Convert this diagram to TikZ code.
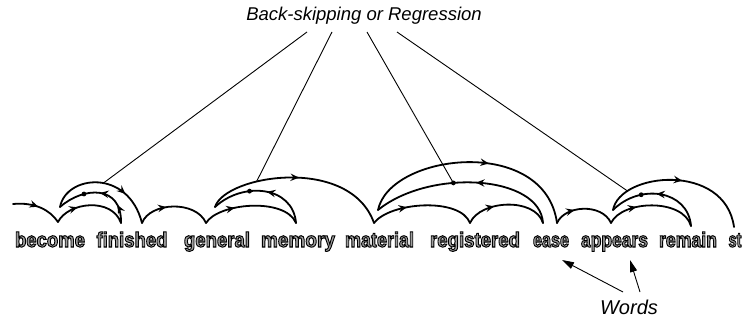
\documentclass[tikz,border=0pt]{standalone}
\usepackage{fontspec}
\setmainfont{Liberation Sans}
\usepackage{graphicx}
\usetikzlibrary{arrows.meta,decorations.markings}
\newfontfamily\wordfont{Liberation Sans}
\newcommand\hatchtext[2]{\resizebox{#1}{\height}{\wordfont\bfseries\fontsize{21}{21}\selectfont
  \special{pdf:literal direct 2 Tr 1.0 w 0 G}#2\special{pdf:literal direct 0 Tr}}}
\newcommand\wordnode[4]{%
  \node[wordtxt,text=black!38] (#1) at (#2,247) {\hatchtext{#3}{#4}};
}
\tikzset{
  eyepath/.style={line width=1.8pt,line cap=round},
  fwdat/.style={postaction={decorate,decoration={markings,
     mark=at position #1 with {\arrow{Stealth[length=8.5pt,width=7.5pt,inset=3pt]}}}}},
  leader/.style={line width=0.9pt},
  wordarrow/.style={line width=0.9pt,-{Triangle[length=12pt,width=7pt]}},
  wordtxt/.style={anchor=base,inner sep=0pt},
  fixdot/.style={fill=black},
}
\begin{document}
\begin{tikzpicture}[x=1pt,y=-1pt]
\useasboundingbox (0,0) rectangle (747,321);

% labels
\node[inner sep=0pt,font=\itshape\fontsize{18.5}{18.5}\selectfont] (lbl) at (364,16) {Back-skipping or Regression};
\node[inner sep=0pt,font=\itshape\fontsize{20}{20}\selectfont] (wl) at (629,307) {Words};

% words
\wordnode{w1}{50}{70pt}{become}
\wordnode{w2}{132}{71pt}{finished}
\wordnode{w3}{217}{66pt}{general}
\wordnode{w4}{298}{74pt}{memory}
\wordnode{w5}{379.5}{69pt}{material}
\wordnode{w6}{475}{90pt}{registered}
\wordnode{w7}{551}{36pt}{ease}
\wordnode{w8}{614.5}{67pt}{appears}
\wordnode{w9}{688}{58pt}{remain}
\wordnode{w10}{735}{13pt}{st}

% key points of the eye path
\coordinate (s0) at (13,204);
\coordinate (c1) at (58,222);
\coordinate (m1) at (121,223);
\coordinate (t1) at (60,207);
\coordinate (e1) at (142,223);
\coordinate (c2) at (206,223);
\coordinate (m2) at (296,223);
\coordinate (t2) at (215,207);
\coordinate (e2) at (374,223);
\coordinate (k3) at (470,223);
\coordinate (m3) at (543,223);
\coordinate (t3) at (378,210);
\coordinate (e3) at (557,223);
\coordinate (c4) at (611,223);
\coordinate (m4) at (691,226);
\coordinate (t4) at (613,210);
\coordinate (e4) at (734,227);

% group 1
\draw[eyepath,fwdat=0.5] (s0) .. controls (35,202) and (50,210) .. (c1);
\draw[eyepath,fwdat=0.33] (c1) .. controls (68,202) and (112,197) .. (m1);
\draw[eyepath,fwdat=0.22,fwdat=0.48] (m1) .. controls (122,185) and (84,186) .. (t1) coordinate[pos=0.7] (d1);
\draw[eyepath,fwdat=0.7] (t1) .. controls (66,175) and (128,168) .. (e1) coordinate[pos=0.55] (l1);
\draw[eyepath,fwdat=0.4] (e1) .. controls (150,202) and (196,200) .. (c2);
% group 2
\draw[eyepath,fwdat=0.33] (c2) .. controls (218,203) and (285,197) .. (m2);
\draw[eyepath,fwdat=0.45] (m2) .. controls (293,186) and (243,181) .. (t2) coordinate[pos=0.65] (d2);
\draw[eyepath,fwdat=0.5] (t2) .. controls (225,175) and (350,155) .. (e2) coordinate[pos=0.34] (l2);
% group 3
\draw[eyepath,fwdat=0.35] (e2) .. controls (390,202) and (460,197) .. (k3);
\draw[eyepath,fwdat=0.35] (k3) .. controls (480,200) and (535,197) .. (m3);
\draw[eyepath,fwdat=0.45] (m3) .. controls (540,175) and (430,168) .. (t3) coordinate[pos=0.62] (d3);
\draw[eyepath,fwdat=0.57] (t3) .. controls (390,153) and (545,135) .. (e3);
\draw[eyepath,fwdat=0.35] (e3) .. controls (565,205) and (602,203) .. (c4);
% group 4
\draw[eyepath,fwdat=0.33] (c4) .. controls (622,200) and (683,198) .. (m4);
\draw[eyepath,fwdat=0.52] (m4) .. controls (688,190) and (640,183) .. (t4) coordinate[pos=0.7] (d4);
\draw[eyepath,fwdat=0.52] (t4) .. controls (620,172) and (725,162) .. (e4) coordinate[pos=0.2] (l4);

% fixation dots
\fill[fixdot] (d1) circle[radius=2.4pt];
\fill[fixdot] (d2) circle[radius=2.4pt];
\fill[fixdot] (d3) circle[radius=2.4pt];
\fill[fixdot] (d4) circle[radius=2.4pt];

% leader lines
\coordinate (g1) at (307,32);
\coordinate (g2) at (332,32);
\coordinate (g3) at (367,32);
\coordinate (g4) at (397,32);
\draw[leader] (g1) -- (l1);
\draw[leader] (g2) -- (l2);
\draw[leader] (g3) -- (d3);
\draw[leader] (g4) -- (l4);

% word arrows
\coordinate (wa1) at (623,292);
\coordinate (wt1) at (562,260);
\coordinate (wa2) at (640,292);
\coordinate (wt2) at (630,260);
\draw[wordarrow] (wa1) -- (wt1);
\draw[wordarrow] (wa2) -- (wt2);
\end{tikzpicture}
\end{document}
